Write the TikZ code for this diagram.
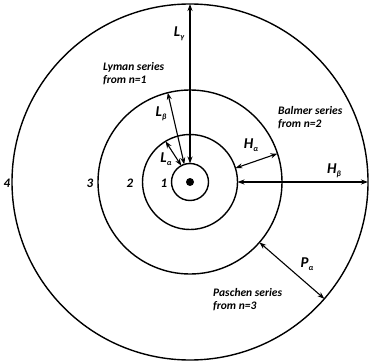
\documentclass[tikz,border=0pt]{standalone}
\usepackage{fontspec}
\setmainfont{Carlito}
\usetikzlibrary{arrows.meta}
\newcommand{\lsub}[1]{\raisebox{-0.45ex}{\fontsize{8}{8}\selectfont #1}}
\begin{document}
\begin{tikzpicture}[x=1pt,y=-1pt,
  orbit/.style={circle,draw,line width=1.4pt,inner sep=0pt,outer sep=0pt},
  trans/.style={line width=1.1pt,{Stealth[length=7pt,width=5pt]}-{Stealth[length=7pt,width=5pt]}},
  lbl/.style={font=\fontsize{15}{15}\selectfont\bfseries\itshape,inner sep=0pt},
  series/.style={font=\fontsize{11.5}{13}\selectfont\bfseries\itshape,align=left,inner sep=0pt},
  num/.style={font=\fontsize{13}{13}\selectfont\bfseries\itshape,inner sep=0pt}]
\useasboundingbox (0,0) rectangle (371,363);
\coordinate (O) at (190,182);
\node[orbit,minimum size=37pt] (c1) at (O) {};
\node[orbit,minimum size=95pt] (c2) at (O) {};
\node[orbit,minimum size=184pt] (c3) at (O) {};
\node[orbit,minimum size=356pt] (c4) at (O) {};
\node[circle,fill,inner sep=0pt,minimum size=8pt] (nuc) at (O) {};
\draw[trans] (c1.90) -- (c4.90);
\draw[trans] (c1.108) -- (c3.104);
\draw[trans] (c1.118) -- (c2.121);
\draw[trans] (c2.17) -- (c3.18);
\draw[trans] (c2.0) -- (c4.0);
\draw[trans] (c3.-41) -- (c4.-41.5);
\node[lbl] (lg) at (179,34) {L\lsub{γ}};
\node[lbl] (lb) at (161,114) {L\lsub{β}};
\node[lbl] (la) at (166,159) {L\lsub{α}};
\node[lbl] (ha) at (251,145) {H\lsub{α}};
\node[lbl] (hb) at (334,171) {H\lsub{β}};
\node[lbl] (pa) at (307,264) {P\lsub{α}};
\node[series,anchor=west] (ly) at (103,74) {Lyman series\\from n=1};
\node[series,anchor=west] (ba) at (278,118) {Balmer series\\from n=2};
\node[series,anchor=west] (pa2) at (213,300) {Paschen series\\from n=3};
\node[num] (n4) at (7,183) {4};
\node[num] (n3) at (90,183) {3};
\node[num] (n2) at (130,183) {2};
\node[num] (n1) at (164,183) {1};
\end{tikzpicture}
\end{document}
